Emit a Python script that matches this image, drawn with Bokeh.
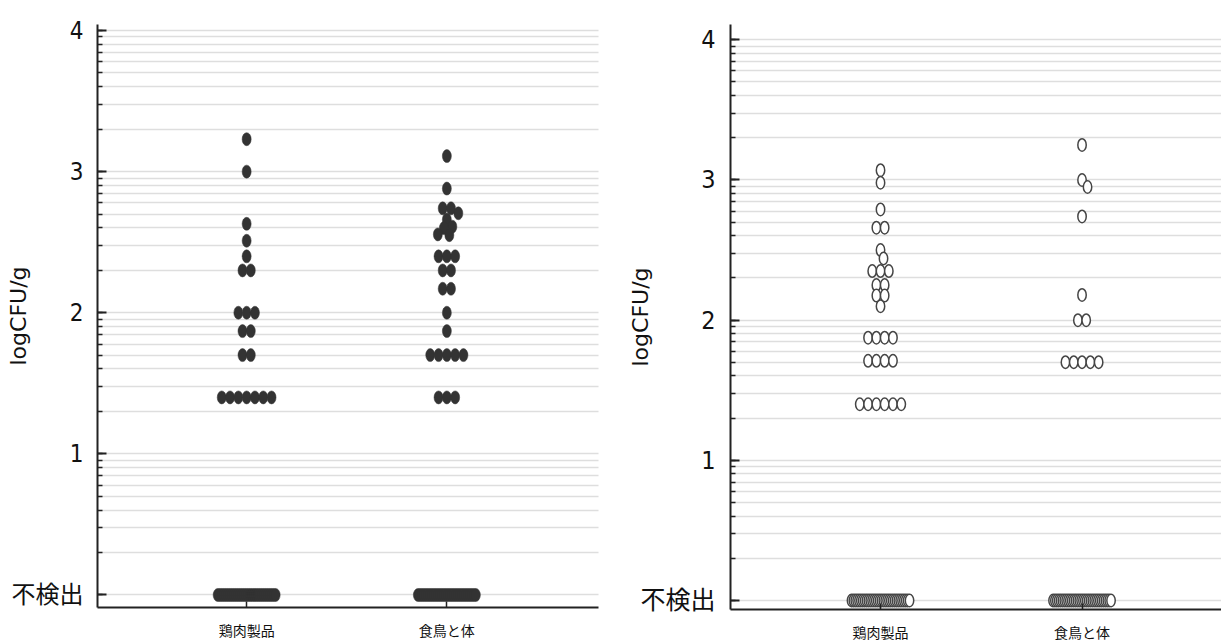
import math
from bokeh.plotting import figure
from bokeh.layouts import row
from bokeh.models import Range1d, FixedTicker
from bokeh.embed import file_html
from bokeh.resources import INLINE

# ---------------- data ----------------
categories = ["鶏肉製品", "食鳥と体"]
nd_label = "不検出"
y_title = "logCFU/g"
y_major = [0, 1, 2, 3, 4]
y_labels = {0: nd_label, 1: "1", 2: "2", 3: "3", 4: "4"}

# left panel (filled dots), log CFU/g of detected samples
left_chicken = [3.23, 3.00, 2.63, 2.51, 2.40, 2.30, 2.30, 2.00, 2.00, 2.00,
                1.87, 1.87, 1.70, 1.70, 1.40, 1.40, 1.40, 1.40, 1.40, 1.40, 1.40]
left_carcass = [3.11, 2.88, 2.74, 2.74, 2.705, 2.66, 2.61, 2.60, 2.555, 2.55,
                2.40, 2.40, 2.40, 2.30, 2.30, 2.17, 2.17, 2.00, 1.87,
                1.70, 1.70, 1.70, 1.70, 1.70, 1.40, 1.40, 1.40]
# right panel (open circles)
right_chicken = [3.07, 2.98, 2.79, 2.66, 2.66, 2.50, 2.44, 2.35, 2.35, 2.35,
                 2.25, 2.25, 2.175, 2.175, 2.10, 1.875, 1.875, 1.875, 1.875,
                 1.71, 1.71, 1.71, 1.71, 1.40, 1.40, 1.40, 1.40, 1.40, 1.40]
right_carcass = [3.25, 3.00, 2.95, 2.74, 2.18, 2.00, 2.00,
                 1.70, 1.70, 1.70, 1.70, 1.70]
# number of non-detected samples (plotted at 0 = 不検出)
left_nd = [30, 30]
right_nd = [32, 32]

# grid / minor tick positions: 1..10 within each decade
grid_pos = sorted(set([d + math.log10(k) for d in range(4) for k in range(1, 11)]))

DOT_W, DOT_H = 8.3, 9.0
ND_MAX = 58.0
TICK_FONT = "'Liberation Sans Narrow', 'DejaVu Sans Condensed', 'Liberation Sans', 'Noto Sans CJK JP', sans-serif"


def swarm(values, n_nd, px_y, px_x):
    vals = sorted(list(values) + [0.0] * n_nd, reverse=True)
    groups = []
    for v in vals:
        if groups and abs(groups[-1][0] - v) < 1e-9:
            groups[-1][1] += 1
        else:
            groups.append([v, 1])
    placed = []
    xs, ys = [], []
    for v, n in groups:
        s = DOT_W if (n - 1) * DOT_W <= ND_MAX else ND_MAX / (n - 1)
        base = [(i - (n - 1) / 2) * s for i in range(n)]
        yp = v * px_y
        shift = 0.0
        found = False
        for k in range(0, 400):
            for sign in ((1,) if k == 0 else (1, -1)):
                d = sign * k * 0.5
                ok = True
                for (px, py) in placed:
                    dy = (py - yp) / DOT_H
                    if abs(dy) >= 1:
                        continue
                    lim = DOT_W * math.sqrt(1 - dy * dy)
                    for b in base:
                        if abs(px - (b + d)) < lim - 1e-9:
                            ok = False
                            break
                    if not ok:
                        break
                if ok:
                    shift = d
                    found = True
                    break
            if found:
                break
        for b in base:
            placed.append((b + shift, yp))
            xs.append((b + shift) / px_x)
            ys.append(v)
    return xs, ys


def make_panel(series, nds, filled, frame_w, frame_h, border_l, border_r,
               border_t, border_b, x_rng, y_rng, tick_size, tick_standoff,
               title_standoff):
    p = figure(frame_width=frame_w, frame_height=frame_h,
               min_border_left=border_l, min_border_right=border_r,
               min_border_top=border_t, min_border_bottom=border_b,
               x_range=Range1d(*x_rng), y_range=Range1d(*y_rng), title=None,
               output_backend="svg", toolbar_location=None, tools="")
    p.outline_line_color = None
    p.background_fill_color = "white"
    p.border_fill_color = "white"
    p.xgrid.visible = False
    p.ygrid.ticker = FixedTicker(ticks=grid_pos)
    p.ygrid.grid_line_color = "#bdbdbd"
    p.ygrid.grid_line_width = 1.6
    p.ygrid.grid_line_dash = "1 1"

    ya = p.yaxis[0]
    ya.ticker = FixedTicker(ticks=y_major, minor_ticks=grid_pos)
    ya.major_label_overrides = y_labels
    ya.axis_line_color = "#222222"
    ya.axis_line_width = 2
    ya.major_tick_in = 9
    ya.major_tick_out = 0
    ya.minor_tick_in = 5
    ya.minor_tick_out = 0
    ya.major_tick_line_color = "#222222"
    ya.minor_tick_line_color = "#222222"
    ya.major_tick_line_width = 2
    ya.minor_tick_line_width = 1.5
    ya.major_label_text_font = TICK_FONT
    ya.major_label_text_font_size = tick_size
    ya.major_label_text_color = "#111111"
    ya.major_label_standoff = tick_standoff
    ya.axis_label = y_title
    ya.axis_label_text_font = "DejaVu Sans"
    ya.axis_label_text_font_size = "22px"
    ya.axis_label_text_font_style = "normal"
    ya.axis_label_text_color = "#111111"
    ya.axis_label_standoff = title_standoff

    xa = p.xaxis[0]
    xa.ticker = FixedTicker(ticks=[1, 2])
    xa.major_label_overrides = {1: categories[0], 2: categories[1]}
    xa.axis_line_color = "#222222"
    xa.axis_line_width = 2
    xa.major_tick_in = 6
    xa.major_tick_out = 0
    xa.major_tick_line_color = "#222222"
    xa.major_tick_line_width = 1.5
    xa.minor_tick_in = 0
    xa.minor_tick_out = 0
    xa.major_label_text_font = "Noto Sans CJK JP"
    xa.major_label_text_font_size = "14px"
    xa.major_label_text_color = "#111111"
    xa.major_label_standoff = 12

    px_x = frame_w / (x_rng[1] - x_rng[0])
    px_y = frame_h / (y_rng[1] - y_rng[0])
    for i, vals in enumerate(series):
        xs, ys = swarm(vals, nds[i], px_y, px_x)
        xs = [i + 1 + x for x in xs]
        if filled:
            p.ellipse(x=xs, y=ys, width=9, height=13, width_units="screen",
                      height_units="screen", fill_color="#333333",
                      line_color="#333333", line_width=0.5)
        else:
            p.ellipse(x=xs, y=ys, width=8.4, height=12.5, width_units="screen",
                      height_units="screen", fill_color="white",
                      line_color="#454545", line_width=1.5)
    return p


left = make_panel([left_chicken, left_carcass], left_nd, True,
                  frame_w=501, frame_h=583, border_l=97, border_r=12,
                  border_t=24, border_b=35, x_rng=(0.255, 2.7575),
                  y_rng=(-0.0887, 4.0426), tick_size="24px", tick_standoff=14,
                  title_standoff=-22)
right = make_panel([right_chicken, right_carcass], right_nd, False,
                   frame_w=491, frame_h=585, border_l=120, border_r=0,
                   border_t=24, border_b=33, x_rng=(0.2556, 2.692),
                   y_rng=(-0.064, 4.109), tick_size="25px", tick_standoff=15,
                   title_standoff=-16)

layout = row(left, right)
open("out.html", "w").write(file_html(layout, INLINE))
